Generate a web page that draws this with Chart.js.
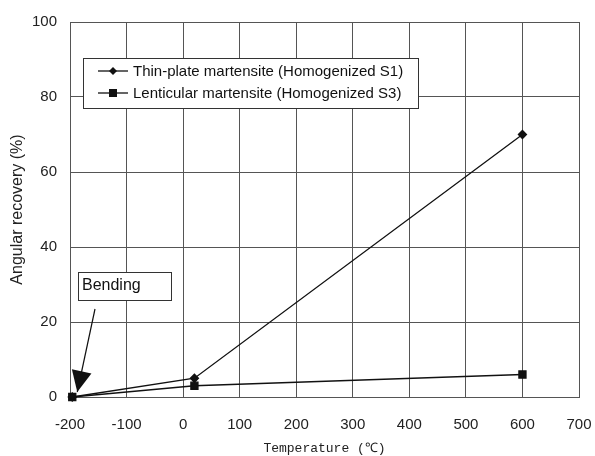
<!DOCTYPE html>
<html lang="en">
<head>
    <meta charset="UTF-8">
    <title>Angular recovery vs Temperature</title>
    <script src="https://cdn.jsdelivr.net/npm/chart.js@4"></script>
    <style>
        body { margin: 0; background: #fff; }
    </style>
</head>
<body>
    <canvas id="recoveryChart" width="595" height="456"></canvas>

    <script>
        // values
        const temperatures = [-196, 20, 600];
        const thinPlate = [0, 5, 70];
        const lenticular = [0, 3, 6];
        const seriesNames = [
            'Thin-plate martensite (Homogenized S1)',
            'Lenticular martensite (Homogenized S3)'
        ];
        const xTickValues = [-200, -100, 0, 100, 200, 300, 400, 500, 600, 700];
        const yTickValues = [0, 20, 40, 60, 80, 100];
        const noteText = 'Bending';

        const toPoints = (ys) => temperatures.map((t, i) => ({ x: t, y: ys[i] }));
        const sansFont = '"Liberation Sans", Arial, sans-serif';

        // legend box and "Bending" note, drawn on top of the plot
        const overlay = {
            id: 'overlay',
            afterDatasetsDraw(chart) {
                const ctx = chart.ctx;
                const xs = chart.scales.x, ys = chart.scales.y;
                ctx.save();
                ctx.lineWidth = 1;
                ctx.strokeStyle = '#333';

                // legend
                const lx = 83.5, ly = 58.5, lw = 335, lh = 50;
                ctx.fillStyle = '#fff';
                ctx.fillRect(lx, ly, lw, lh);
                ctx.strokeRect(lx, ly, lw, lh);
                ctx.font = '15px ' + sansFont;
                ctx.textBaseline = 'middle';
                const styles = ['diamond', 'square'];
                seriesNames.forEach((name, i) => {
                    const cy = 71 + i * 22;
                    ctx.strokeStyle = '#111';
                    ctx.lineWidth = 1.3;
                    ctx.beginPath();
                    ctx.moveTo(98, cy);
                    ctx.lineTo(128, cy);
                    ctx.stroke();
                    ctx.fillStyle = '#111';
                    ctx.beginPath();
                    if (styles[i] === 'diamond') {
                        ctx.moveTo(113, cy - 4);
                        ctx.lineTo(117, cy);
                        ctx.lineTo(113, cy + 4);
                        ctx.lineTo(109, cy);
                        ctx.closePath();
                    } else {
                        ctx.rect(109, cy - 4, 8, 8);
                    }
                    ctx.fill();
                    ctx.fillText(name, 133, cy + 1);
                });

                // note box
                ctx.lineWidth = 1;
                ctx.strokeStyle = '#333';
                ctx.fillStyle = '#fff';
                ctx.fillRect(78.5, 272.5, 93, 28);
                ctx.strokeRect(78.5, 272.5, 93, 28);
                ctx.fillStyle = '#111';
                ctx.font = '16px ' + sansFont;
                ctx.fillText(noteText, 82, 286);

                // arrow to the bending point
                const tipX = xs.getPixelForValue(temperatures[0]) + 5;
                const tipY = ys.getPixelForValue(thinPlate[0]) - 5;
                const startX = 95, startY = 309;
                ctx.strokeStyle = '#111';
                ctx.lineWidth = 1.2;
                ctx.beginPath();
                ctx.moveTo(startX, startY);
                ctx.lineTo(tipX, tipY);
                ctx.stroke();
                const ang = Math.atan2(tipY - startY, tipX - startX);
                const len = 21, half = 10;
                const bx = tipX - len * Math.cos(ang), by = tipY - len * Math.sin(ang);
                ctx.beginPath();
                ctx.moveTo(tipX, tipY);
                ctx.lineTo(bx + half * Math.sin(ang), by - half * Math.cos(ang));
                ctx.lineTo(bx - half * Math.sin(ang), by + half * Math.cos(ang));
                ctx.closePath();
                ctx.fill();
                ctx.restore();
            }
        };

        const ctx = document.getElementById('recoveryChart').getContext('2d');
        const chart = new Chart(ctx, {
            type: 'scatter',
            data: {
                datasets: [
                    {
                        label: seriesNames[0],
                        data: toPoints(thinPlate),
                        showLine: true,
                        clip: false,
                        borderColor: '#111',
                        backgroundColor: '#111',
                        borderWidth: 1.3,
                        pointStyle: 'rectRot',
                        pointRadius: 4,
                        pointHoverRadius: 4
                    },
                    {
                        label: seriesNames[1],
                        data: toPoints(lenticular),
                        showLine: true,
                        clip: false,
                        borderColor: '#111',
                        backgroundColor: '#111',
                        borderWidth: 1.3,
                        pointStyle: 'rect',
                        pointRadius: 5,
                        pointHoverRadius: 5
                    }
                ]
            },
            options: {
                responsive: false,
                animation: false,
                layout: { padding: { left: 0, right: 16, top: 18, bottom: 0 } },
                plugins: {
                    legend: { display: false },
                    tooltip: { enabled: false }
                },
                scales: {
                    x: {
                        type: 'linear',
                        min: -200,
                        max: 700,
                        afterBuildTicks: (s) => { s.ticks = xTickValues.map(v => ({ value: v })); },
                        afterFit: (s) => { s.height = 59; },
                        grid: { color: '#555', lineWidth: 1, drawTicks: true, tickLength: 19, tickColor: 'rgba(0,0,0,0)' },
                        border: { color: '#555' },
                        ticks: {
                            color: '#222',
                            padding: 0,
                            font: { family: sansFont, size: 15 }
                        },
                        title: {
                            display: true,
                            text: 'Temperature (℃)',
                            color: '#222',
                            padding: 0,
                            font: { family: '"Liberation Mono", "DejaVu Sans Mono", monospace', size: 13 }
                        }
                    },
                    y: {
                        min: 0,
                        max: 100,
                        afterBuildTicks: (s) => { s.ticks = yTickValues.map(v => ({ value: v })); },
                        afterFit: (s) => { s.width = 70; },
                        grid: { color: '#555', lineWidth: 1, drawTicks: false },
                        border: { color: '#555' },
                        ticks: {
                            color: '#222',
                            padding: 13,
                            font: { family: sansFont, size: 15 }
                        },
                        title: {
                            display: true,
                            text: 'Angular recovery (%)',
                            color: '#222',
                            padding: { top: 8, bottom: 0 },
                            font: { family: sansFont, size: 16 }
                        }
                    }
                }
            },
            plugins: [overlay]
        });
    </script>
</body>
</html>
